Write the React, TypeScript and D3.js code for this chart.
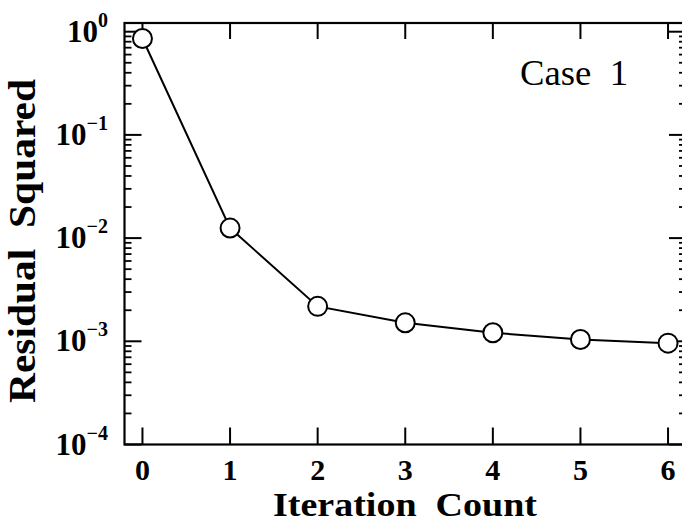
import React from "react";
import * as d3 from "d3";

const iterations = [0, 1, 2, 3, 4, 5, 6];
const residuals = [0.86, 0.0125, 0.00218, 0.00151, 0.00121, 0.00104, 0.00096];
const xTickValues = [0, 1, 2, 3, 4, 5, 6];
const yDecades = [-4, -3, -2, -1, 0];
const caseLabel = "Case  1";
const xTitle = "Iteration  Count";
const yTitle = "Residual  Squared";

const W = 682;
const H = 522;
const serif = "'Liberation Serif', 'Times New Roman', Times, serif";

export default function App() {
  const x = d3.scaleLinear().domain([-0.205, 6.205]).range([124.5, 686]);
  const y = d3.scaleLog().domain([1e-4, 1]).range([444.5, 31.7]);
  const yTop = 23;
  const yBot = y(1e-4);
  const xL = x(-0.205);
  const xR = x(6.205);

  const line = d3
    .line<number>()
    .x((_, i) => x(iterations[i]))
    .y((d) => y(d));

  const minor: number[] = [];
  for (let e = -4; e < 0; e++) {
    for (let m = 2; m <= 9; m++) minor.push(m * Math.pow(10, e));
  }

  const stroke = "#000";
  return (
    <svg
      width={W}
      height={H}
      style={{ position: "absolute", left: 0, top: 0, background: "#fff" }}
    >
      <rect x={0} y={0} width={W} height={H} fill="#fff" />
      <rect
        x={xL}
        y={yTop}
        width={xR - xL}
        height={yBot - yTop}
        fill="none"
        stroke={stroke}
        strokeWidth={2.2}
      />
      {yDecades.map((e) => {
        const yy = y(Math.pow(10, e));
        return (
          <g key={"ym" + e}>
            <line x1={xL} x2={xL + 17} y1={yy} y2={yy} stroke={stroke} strokeWidth={2} />
            <line x1={xR} x2={xR - 17} y1={yy} y2={yy} stroke={stroke} strokeWidth={2} />
          </g>
        );
      })}
      {minor.map((v, i) => {
        const yy = y(v);
        return (
          <g key={"yn" + i}>
            <line x1={xL} x2={xL + 7} y1={yy} y2={yy} stroke={stroke} strokeWidth={1.8} />
            <line x1={xR} x2={xR - 7} y1={yy} y2={yy} stroke={stroke} strokeWidth={1.8} />
          </g>
        );
      })}
      {xTickValues.map((t) => {
        const xx = x(t);
        return (
          <g key={"xt" + t}>
            <line x1={xx} x2={xx} y1={yBot} y2={yBot - 17} stroke={stroke} strokeWidth={2} />
            <line x1={xx} x2={xx} y1={yTop} y2={yTop + 16} stroke={stroke} strokeWidth={2} />
            <text
              x={xx}
              y={480}
              textAnchor="middle"
              fontFamily={serif}
              fontWeight="bold"
              fontSize={30}
            >
              {String(t)}
            </text>
          </g>
        );
      })}
      {yDecades.map((e) => {
        const yy = y(Math.pow(10, e));
        return (
          <text
            key={"yl" + e}
            x={108}
            y={yy + 10}
            textAnchor="end"
            fontFamily={serif}
            fontWeight="bold"
            fontSize={31}
          >
            10
            <tspan dy={-15} fontSize={20}>
              {e === 0 ? "0" : "\u2212" + Math.abs(e)}
            </tspan>
          </text>
        );
      })}
      <path d={line(residuals) || ""} fill="none" stroke={stroke} strokeWidth={2} />
      {residuals.map((v, i) => (
        <circle
          key={"p" + i}
          cx={x(iterations[i])}
          cy={y(v)}
          r={9.5}
          fill="#fff"
          stroke={stroke}
          strokeWidth={2}
        />
      ))}
      <text
        x={520}
        y={85}
        fontFamily={serif}
        fontSize={36}
        style={{ whiteSpace: "pre" }}
        textLength={108}
        lengthAdjust="spacingAndGlyphs"
      >
        {caseLabel}
      </text>
      <text
        x={405}
        y={516}
        textAnchor="middle"
        fontFamily={serif}
        fontWeight="bold"
        fontSize={33}
        style={{ whiteSpace: "pre" }}
        textLength={264}
        lengthAdjust="spacingAndGlyphs"
      >
        {xTitle}
      </text>
      <text
        transform={`translate(35,241) rotate(-90)`}
        textAnchor="middle"
        fontFamily={serif}
        fontWeight="bold"
        fontSize={37}
        style={{ whiteSpace: "pre" }}
        textLength={324}
        lengthAdjust="spacingAndGlyphs"
      >
        {yTitle}
      </text>
    </svg>
  );
}
